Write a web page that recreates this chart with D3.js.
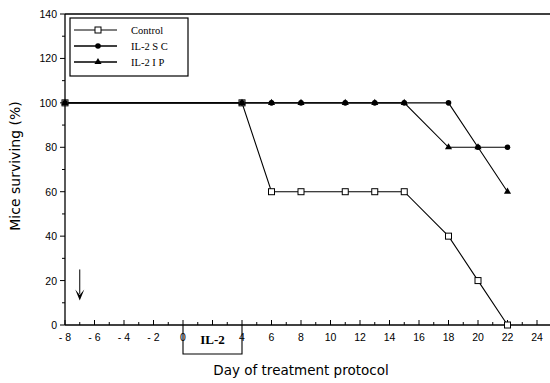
<!DOCTYPE html>
<html>
<head>
<meta charset="utf-8">
<script src="https://cdn.jsdelivr.net/npm/d3@7"></script>
<style>
  body { margin: 0; background: #fff; }
  svg { display: block; }
</style>
</head>
<body>
<div id="chart"></div>
<script>
// days on the treatment protocol
const controlDays = [-8, 4, 6, 8, 11, 13, 15, 18, 20, 22];
const controlValues = [100, 100, 60, 60, 60, 60, 60, 40, 20, 0];

const scDays = [-8, 4, 6, 8, 11, 13, 15, 18, 20, 22];
const scValues = [100, 100, 100, 100, 100, 100, 100, 100, 80, 80];

const ipDays = [-8, 4, 6, 8, 11, 13, 15, 18, 20, 22];
const ipValues = [100, 100, 100, 100, 100, 100, 100, 80, 80, 60];

// day 2 is hidden under the IL-2 bracket label
const xTicks = [-8, -6, -4, -2, 0, 4, 6, 8, 10, 12, 14, 16, 18, 20, 22, 24];
const yTicks = [0, 20, 40, 60, 80, 100, 120, 140];

const width = 550, height = 383;
const margin = { top: 14, right: 0, bottom: 58, left: 65 };

const svg = d3.select("#chart").append("svg")
    .attr("width", width)
    .attr("height", height);

const x = d3.scaleLinear().domain([-8, 24]).range([65, 537]);
const y = d3.scaleLinear().domain([0, 140]).range([height - margin.bottom, margin.top]);

const y0 = y(0);

// frame: top line and x baseline run to the edge
svg.append("line")
    .attr("x1", x(-8)).attr("x2", width)
    .attr("y1", y(140)).attr("y2", y(140))
    .attr("stroke", "#000").attr("stroke-width", 1.3);

// x axis
const xAxis = svg.append("g").attr("transform", `translate(0,${y0})`);
xAxis.append("line")
    .attr("x1", x(-8)).attr("x2", width)
    .attr("stroke", "#000").attr("stroke-width", 1.3);
xAxis.selectAll(".tk")
    .data(d3.range(-8, 25, 1))
    .enter().append("line")
    .attr("x1", d => x(d)).attr("x2", d => x(d))
    .attr("y1", 0).attr("y2", d => (d % 2 === 0 ? -5 : -3))
    .attr("stroke", "#000");
xAxis.selectAll(".lbl")
    .data(xTicks)
    .enter().append("text")
    .attr("x", d => x(d))
    .attr("y", 16)
    .attr("text-anchor", "middle")
    .attr("font-family", "Liberation Sans, Arial, sans-serif")
    .attr("font-size", 10.5)
    .text(d => (d < 0 ? "- " + Math.abs(d) : d));

// y axis
const yAxis = svg.append("g").attr("transform", `translate(${x(-8)},0)`);
yAxis.append("line")
    .attr("y1", y(0)).attr("y2", y(140))
    .attr("stroke", "#000").attr("stroke-width", 1.3);
yAxis.selectAll(".tk")
    .data(d3.range(0, 141, 10))
    .enter().append("line")
    .attr("y1", d => y(d)).attr("y2", d => y(d))
    .attr("x1", 0).attr("x2", d => (d % 20 === 0 ? -5 : -3))
    .attr("stroke", "#000");
yAxis.selectAll(".lbl")
    .data(yTicks)
    .enter().append("text")
    .attr("x", -8)
    .attr("y", d => y(d) + 4)
    .attr("text-anchor", "end")
    .attr("font-family", "Liberation Sans, Arial, sans-serif")
    .attr("font-size", 10.5)
    .text(d => d);

// axis titles
svg.append("text")
    .attr("x", 301).attr("y", 375)
    .attr("text-anchor", "middle")
    .attr("font-family", "DejaVu Sans, sans-serif")
    .attr("font-size", 13.5)
    .text("Day of treatment protocol");

svg.append("text")
    .attr("transform", "translate(20,166) rotate(-90)")
    .attr("text-anchor", "middle")
    .attr("font-family", "DejaVu Sans, sans-serif")
    .attr("font-size", 14)
    .text("Mice surviving (%)");

// IL-2 treatment bracket
svg.append("path")
    .attr("d", `M${x(0)},${y0} V${y0 + 29} H${x(4)} V${y0}`)
    .attr("fill", "none").attr("stroke", "#000").attr("stroke-width", 1.1);
svg.append("text")
    .attr("x", (x(0) + x(4)) / 2).attr("y", y0 + 19)
    .attr("text-anchor", "middle")
    .attr("font-family", "Liberation Serif, serif")
    .attr("font-weight", "bold")
    .attr("font-size", 13)
    .text("IL-2");

// arrow for tumour inoculation
svg.append("line")
    .attr("x1", x(-7)).attr("x2", x(-7))
    .attr("y1", y(25)).attr("y2", y(14))
    .attr("stroke", "#000").attr("stroke-width", 1);
svg.append("path")
    .attr("d", `M${x(-7) - 4.5},${y(16)} L${x(-7)},${y(13.5)} L${x(-7) + 4.5},${y(16)} L${x(-7)},${y(11)} Z`)
    .attr("fill", "#000");

// series
const series = [
    { name: "Control", days: controlDays, values: controlValues, marker: "square" },
    { name: "IL-2  S C", days: scDays, values: scValues, marker: "circle" },
    { name: "IL-2  I P", days: ipDays, values: ipValues, marker: "triangle" },
];

const line = d3.line().x(d => x(d[0])).y(d => y(d[1]));

function drawMarker(g, type, cx, cy) {
    if (type === "square") {
        g.append("rect")
            .attr("x", cx - 3).attr("y", cy - 3)
            .attr("width", 6).attr("height", 6)
            .attr("fill", "#fff").attr("stroke", "#000").attr("stroke-width", 1);
    } else if (type === "circle") {
        g.append("circle")
            .attr("cx", cx).attr("cy", cy).attr("r", 2.8)
            .attr("fill", "#000");
    } else {
        g.append("path")
            .attr("d", d3.symbol().type(d3.symbolTriangle).size(22)())
            .attr("transform", `translate(${cx},${cy})`)
            .attr("fill", "#000");
    }
}

series.forEach(s => {
    const pts = s.days.map((d, i) => [d, s.values[i]]);
    svg.append("path")
        .datum(pts)
        .attr("d", line)
        .attr("fill", "none")
        .attr("stroke", "#000")
        .attr("stroke-width", 1.1);
});

series.forEach(s => {
    const g = svg.append("g");
    s.days.forEach((d, i) => drawMarker(g, s.marker, x(d), y(s.values[i])));
});

// legend
const legend = svg.append("g");
legend.append("rect")
    .attr("x", 70).attr("y", 18)
    .attr("width", 118).attr("height", 58)
    .attr("fill", "#fff").attr("stroke", "#000").attr("stroke-width", 1.2);

series.forEach((s, i) => {
    const ly = 30 + i * 16;
    legend.append("line")
        .attr("x1", 74).attr("x2", 117)
        .attr("y1", ly).attr("y2", ly)
        .attr("stroke", "#000").attr("stroke-width", i === 0 ? 1 : 1.6);
    drawMarker(legend, s.marker, 98, ly);
    legend.append("text")
        .attr("x", 131).attr("y", ly + 3.5)
        .attr("font-family", "Liberation Serif, serif")
        .attr("font-size", 10.5)
        .text(s.name);
});
</script>
</body>
</html>
